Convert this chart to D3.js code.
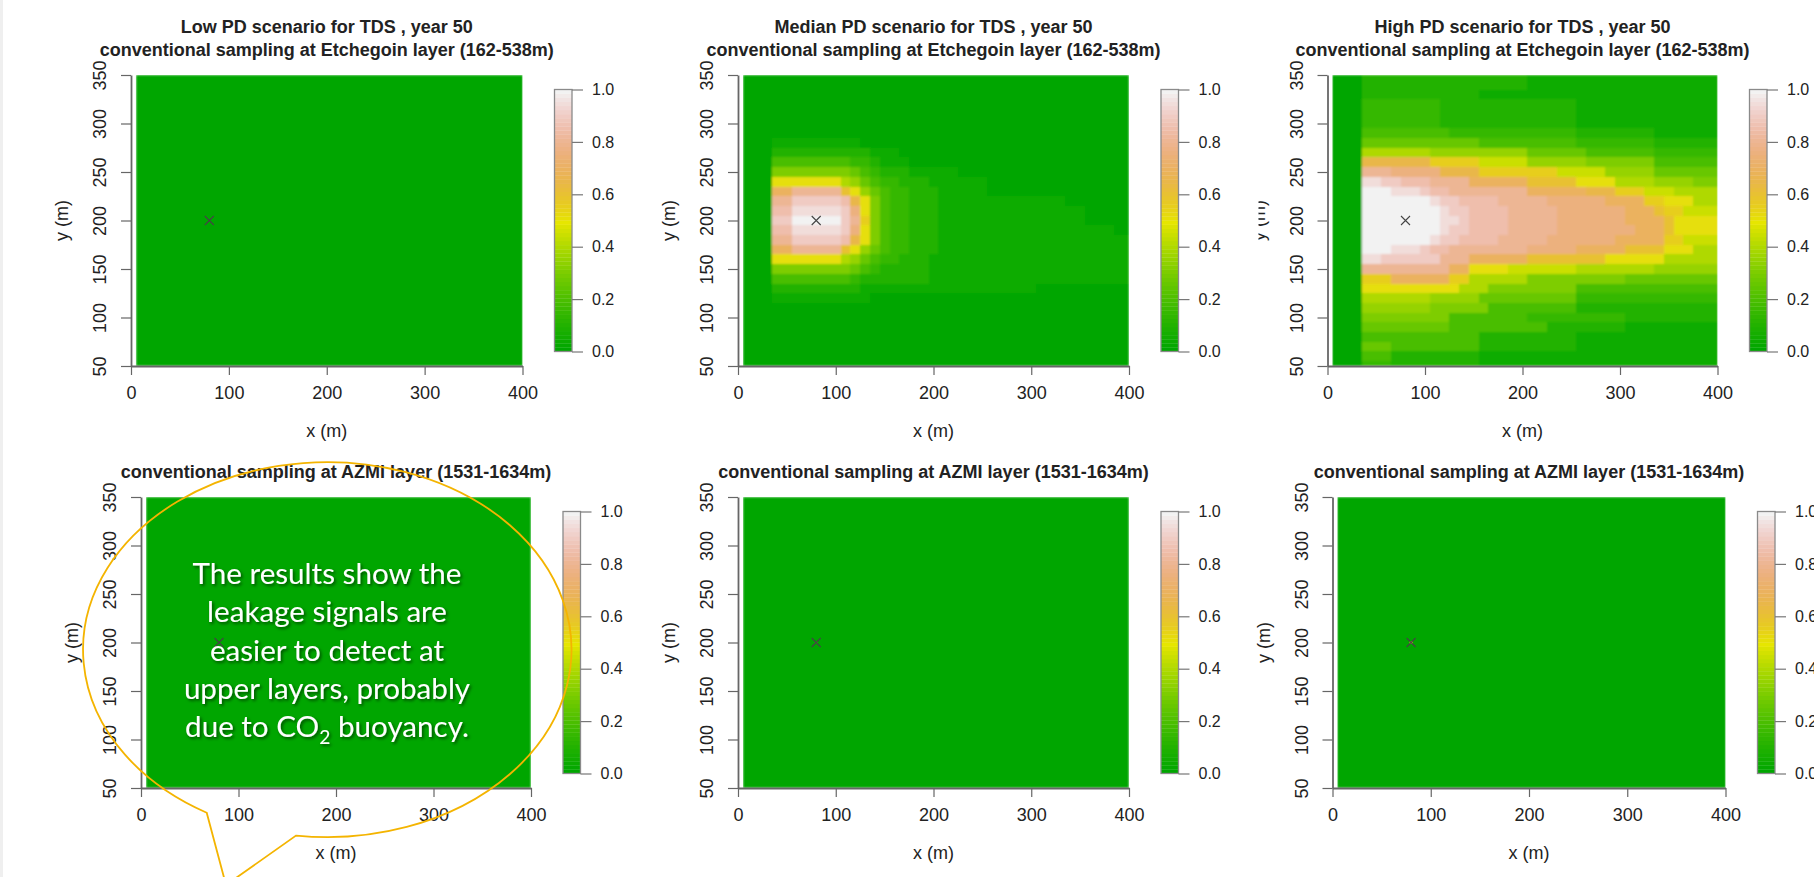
<!DOCTYPE html>
<html>
<head>
<meta charset="utf-8">
<script src="https://cdn.jsdelivr.net/npm/d3@7"></script>
<style>
  body { margin: 0; background: #fff; }
  svg { display: block; }
  text { font-family: "Liberation Sans", Arial, sans-serif; fill: #222; }
</style>
</head>
<body>
<svg id="fig" width="1814" height="877"></svg>
<script>

// ---- data ----
const xCenters = [10,20,30,40,50,60,70,80,90,100,110,120,130,140,150,160,170,180,190,200,
                  210,220,230,240,250,260,270,280,290,300,310,320,330,340,350,360,370,380,390,400];
const yCenters = [350,340,330,320,310,300,290,280,270,260,250,240,230,220,210,200,
                  190,180,170,160,150,140,130,120,110,100,90,80,70,60,50];
const xTicks = [0, 100, 200, 300, 400];
const yTicks = [50, 100, 150, 200, 250, 300, 350];
const barTicks = [0, 0.2, 0.4, 0.6, 0.8, 1.0];
const wellLocation = [80, 200];

// one char per 10 m cell, value = index / 20
const levelChars = "0123456789ABCDEFGHIJK";

const topTitles = [
	"Low PD scenario for TDS , year 50",
	"Median PD scenario for TDS , year 50",
	"High PD scenario for TDS , year 50"
];
const etchegoinTitle = "conventional sampling at Etchegoin layer (162-538m)";
const azmiTitle = "conventional sampling at AZMI layer (1531-1634m)";

// uniform fields (low Etchegoin and all AZMI panels read as 0 everywhere)
const uniformRow = "0000000000 0000000000 0000000000 0000000000";
const lowEtchegoin = yCenters.map(() => uniformRow);

const medianEtchegoin = [
	"0000000000 0000000000 0000000000 0000000000",
	"0000000000 0000000000 0000000000 0000000000",
	"0000000000 0000000000 0000000000 0000000000",
	"0000000000 0000000000 0000000000 0000000000",
	"0000000000 0000000000 0000000000 0000000000",
	"0000000000 0000000000 0000000000 0000000000",
	"0000000000 0000000000 0000000000 0000000000",
	"0001111111 1100000000 0000000000 0000000000",
	"0002222222 2221110000 0000000000 0000000000",
	"0004444444 4332111000 0000000000 0000000000",
	"0006666666 6543222111 1100000000 0000000000",
	"000AAAAAAA 8754332221 1111100000 0000000000",
	"000EEGGGGG CA75433222 1111100000 0000000000",
	"000GGIIIII HDA6433222 1111111111 1110000000",
	"000HHJJJJJ IFA6433222 1111111111 1111100000",
	"000IIKKKKK IGB6433222 1111111111 1111100000",
	"000HHJJJJJ IFA6433222 1111111111 1111111100",
	"000GGIIIII HDA6433222 1111111111 1111111111",
	"000EEGGGGG CA75433222 1111111111 1111111111",
	"000AAAAAAA 8754332221 1111111111 1111111111",
	"0006666666 6543222221 1111111111 1111111111",
	"0004444444 4322222221 1111111111 1111111111",
	"0002222222 2211111111 1111111111 0000000000",
	"0001111111 1110000000 0000000000 0000000000",
	"0000000000 0000000000 0000000000 0000000000",
	"0000000000 0000000000 0000000000 0000000000",
	"0000000000 0000000000 0000000000 0000000000",
	"0000000000 0000000000 0000000000 0000000000",
	"0000000000 0000000000 0000000000 0000000000",
	"0000000000 0000000000 0000000000 0000000000",
	"0000000000 0000000000 0000000000 0000000000"
];

const highEtchegoin = [
	"0002222222 2222222222 1111111111 1111111111",
	"0002222222 2222222222 1111111111 1111111111",
	"0002222222 2222211111 1111111111 1111111111",
	"0003333333 3222222222 2222211111 1111111111",
	"0003333333 3222222222 2222211111 1111111111",
	"0003333333 3222222222 2222211111 1111111111",
	"0004444444 4433333333 3333322222 2221111111",
	"0005555555 5555544444 4444433333 3332222222",
	"0008888888 7777777777 5555554444 4443333333",
	"000DDDDDDD BBBBB99999 7777776666 6664444444",
	"000GGGFFFF FDDDDBBBBB BBB9999977 7775555555",
	"000JJIIHHH GGGGEEEEEE CCCCCAAAA8 8887777666",
	"000KKKJJJI HHGGGGGGGG EEEEEEDDDB BB99988888",
	"000KKKKKKK JIIHHHHGGG GGFFFFFFEE EEBBAAA888",
	"000KKKKKKK KJIIHHHHGG GGGFFFFFFF EEECBB9999",
	"000KKKKKKK KJJIHHHHGG GGGFFFFFFF EEEECAAAAA",
	"000KKKKKKK KJIIHHHHGG GGGFFFFFFF FEEECAAAAA",
	"000KKKKKKK JIIHHHHGGG GGFFFFFFFE EEEEBB9999",
	"000KKKJJJI HHGGGGGGGG FFFFFEEEEE CCCCAAA888",
	"000JJIIIII IGGGEEEEEE CCCCCCCCAA AAAA888888",
	"000GGGGGGG GGEEAAAA99 9999988888 8887777777",
	"000BBBEEEE EEBB888888 6666666666 5555555555",
	"000AAAAAAA AAA8886666 6666644444 4444444444",
	"0008888888 7777755555 5555533333 3333333333",
	"0007777777 6666664444 4444422222 2222222222",
	"0006666666 6644444444 3333333333 2222222222",
	"0005555555 5544444444 4422222222 1111111111",
	"0004444444 4444422222 2222211111 1111111111",
	"0005554444 4444422222 2222211111 1111111111",
	"0004442222 2222211111 1111111111 1111111111",
	"0003332222 2222211111 1111111111 1111111111"
];

const lowAzmi = yCenters.map(() => uniformRow);
const medianAzmi = yCenters.map(() => uniformRow);
const highAzmi = yCenters.map(() => uniformRow);

// tiny hot spot right at the well (only visible in the AZMI panels)
const wellSpot = [0, 0, 0, 0, 0.12, 0.55];

const calloutLines = ["The results show the", "leakage signals are", "easier to detect at",
	"upper layers, probably", "due to CO"];

// ---- layout ----
const layout = [
	{ x0: 131,    x1: 522.5,  top: 75,  bottom: 366 },
	{ x0: 738,    x1: 1129,   top: 75,  bottom: 366 },
	{ x0: 1327.5, x1: 1717.5, top: 75,  bottom: 366 },
	{ x0: 141,    x1: 531,    top: 497, bottom: 788 },
	{ x0: 738,    x1: 1129,   top: 497, bottom: 788 },
	{ x0: 1332.5, x1: 1725.5, top: 497, bottom: 788 }
];

// R's terrain.colors(n)
function hsvToHex(h, s, v) {
	const i = Math.floor(h * 6), f = h * 6 - i;
	const p = v * (1 - s), q = v * (1 - f * s), t = v * (1 - (1 - f) * s);
	const rgb = [[v, t, p], [q, v, p], [p, v, t], [p, q, v], [t, p, v], [v, p, q]][i % 6];
	return d3.rgb(rgb[0] * 255, rgb[1] * 255, rgb[2] * 255).formatHex();
}
function terrainColors(n) {
	const k = Math.floor(n / 2);
	const seq = (a, b, len) => d3.range(len).map(i => a + (b - a) * i / (len - 1));
	const h1 = seq(4/12, 2/12, k), v1 = seq(0.65, 0.9, k);
	const h2 = seq(2/12, 0, n - k + 1).slice(1), s2 = seq(1, 0, n - k + 1).slice(1),
		v2 = seq(0.9, 0.95, n - k + 1).slice(1);
	return h1.map((h, i) => hsvToHex(h, 1, v1[i]))
		.concat(h2.map((h, i) => hsvToHex(h, s2[i], v2[i])));
}

const palette = terrainColors(64);
const color = d3.scaleQuantize().domain([0, 1]).range(palette);

const svg = d3.select("#fig");
const defs = svg.append("defs");
svg.append("rect").attr("width", 3).attr("height", 877).attr("fill", "#efefef");

// the plotted rasters look slightly resampled in the picture
defs.append("filter")
	.attr("id", "soften")
	.append("feGaussianBlur")
		.attr("stdDeviation", 1.1)
		.attr("edgeMode", "duplicate");

function drawPanel(box, grid, spot, titleLines, titleBaselines, idx) {
	const x = d3.scaleLinear().domain([0, 400]).range([box.x0, box.x1]);
	const y = d3.scaleLinear().domain([50, 350]).range([box.bottom, box.top]);
	const g = svg.append("g");

	const cells = [];
	grid.forEach((row, r) => {
		row.replace(/ /g, "").split("").forEach((ch, c) => {
			cells.push({ x: xCenters[c], y: yCenters[r], v: levelChars.indexOf(ch) / 20 });
		});
	});

	defs.append("clipPath")
		.attr("id", "clip" + idx)
		.append("rect")
			.attr("x", x(5)).attr("y", y(350))
			.attr("width", x(400) - x(5)).attr("height", y(50) - y(350));

	g.append("g")
		.attr("clip-path", `url(#clip${idx})`)
		.append("g")
			.attr("filter", "url(#soften)")
			.selectAll("rect")
			.data(cells)
			.join("rect")
				.attr("x", d => x(Math.max(d.x - 5, 0)))
				.attr("width", d => x(Math.min(d.x + 5, 400)) - x(Math.max(d.x - 5, 0)))
				.attr("y", d => y(Math.min(d.y + 5, 350)))
				.attr("height", d => y(Math.max(d.y - 5, 50)) - y(Math.min(d.y + 5, 350)))
				.attr("fill", d => color(d.v))
				.attr("shape-rendering", "crispEdges");

	// well marker
	const wx = x(wellLocation[0]), wy = y(wellLocation[1]);
	if (spot > 0) {
		g.append("rect")
			.attr("x", wx - 1.5).attr("y", wy - 1.5)
			.attr("width", 3).attr("height", 3)
			.attr("fill", color(spot));
	}
	g.append("path")
		.attr("d", `M${wx-4.5},${wy-4.5}L${wx+4.5},${wy+4.5}M${wx-4.5},${wy+4.5}L${wx+4.5},${wy-4.5}`)
		.attr("stroke", "#444")
		.attr("stroke-width", 1.1);

	// axes
	const xAxis = g.append("g")
		.attr("transform", `translate(0,${box.bottom})`)
		.call(d3.axisBottom(x).tickValues(xTicks).tickSize(9).tickSizeOuter(0).tickPadding(11.5));
	const yAxis = g.append("g")
		.attr("transform", `translate(${box.x0},0)`)
		.call(d3.axisLeft(y).tickValues(yTicks).tickSize(10).tickSizeOuter(0));

	[xAxis, yAxis].forEach(a => {
		a.attr("font-family", null).attr("font-size", null);
		a.select(".domain").attr("stroke", "#666").attr("stroke-width", 1.8);
		a.selectAll(".tick line").attr("stroke", "#666").attr("stroke-width", 1.2);
		a.selectAll(".tick text").style("font-size", "18px").attr("fill", "#222");
	});
	yAxis.selectAll(".tick text")
		.attr("x", 0).attr("dy", 0)
		.attr("text-anchor", "middle")
		.attr("transform", "translate(-24.6,0) rotate(-90)");

	g.append("text")
		.attr("x", (box.x0 + box.x1) / 2)
		.attr("y", box.bottom + 70.5)
		.attr("text-anchor", "middle")
		.style("font-size", "18px")
		.text("x (m)");
	g.append("text")
		.attr("transform", `translate(${box.x0 - 63},${(box.top + box.bottom) / 2}) rotate(-90)`)
		.attr("text-anchor", "middle")
		.style("font-size", "18px")
		.text("y (m)");

	// titles
	titleLines.forEach((t, i) => {
		g.append("text")
			.attr("x", (box.x0 + box.x1) / 2)
			.attr("y", titleBaselines[i])
			.attr("text-anchor", "middle")
			.style("font-size", "18px")
			.style("font-weight", "bold")
			.text(t);
	});

	// colour bar
	const bx = box.x1 + 32, bw = 17.5;
	const by = d3.scaleLinear().domain([0, 1]).range([box.bottom - 14.5, box.top + 14.5]);
	const bar = g.append("g");
	bar.selectAll("rect")
		.data(palette)
		.join("rect")
			.attr("x", bx)
			.attr("width", bw)
			.attr("y", (c, i) => by((i + 1) / palette.length))
			.attr("height", (c, i) => by(i / palette.length) - by((i + 1) / palette.length) + 0.3)
			.attr("fill", c => c);
	bar.append("rect")
		.attr("x", bx).attr("y", by(1))
		.attr("width", bw).attr("height", by(0) - by(1))
		.attr("fill", "none")
		.attr("stroke", "#8a8a8a")
		.attr("stroke-width", 1.3);
	const barAxis = bar.append("g")
		.attr("transform", `translate(${bx + bw},0)`)
		.call(d3.axisRight(by).tickValues(barTicks).tickFormat(d3.format(".1f"))
			.tickSize(11).tickPadding(9));
	barAxis.attr("font-family", null).attr("font-size", null);
	barAxis.select(".domain").remove();
	barAxis.selectAll(".tick line").attr("stroke", "#777").attr("stroke-width", 1.2);
	barAxis.selectAll(".tick text").style("font-size", "16px").attr("fill", "#222");
}

const grids = [lowEtchegoin, medianEtchegoin, highEtchegoin, lowAzmi, medianAzmi, highAzmi];
grids.forEach((grid, i) => {
	const titles = i < 3 ? [topTitles[i], etchegoinTitle] : [azmiTitle];
	const baselines = i < 3 ? [32.7, 55.6] : [477.5];
	drawPanel(layout[i], grid, wellSpot[i], titles, baselines, i);
});

// the median panel's picture overlaps the high panel's y label on the slide
svg.append("rect")
	.attr("x", 1226).attr("y", 60)
	.attr("width", 32.5).attr("height", 360)
	.attr("fill", "#fff");

// ---- callout bubble ----
defs.append("filter")
	.attr("id", "shadow")
	.attr("x", "-20%").attr("y", "-40%").attr("width", "140%").attr("height", "180%")
	.append("feDropShadow")
		.attr("dx", 1.6).attr("dy", 1.8)
		.attr("stdDeviation", 1.4)
		.attr("flood-color", "#000")
		.attr("flood-opacity", 0.55);

const bubble = { cx: 325.8, cy: 649.2, rx: 244.2, ry: 187.5 };
const tailA = [206.7, 812.7], tailB = [296, 835.6], tailTip = [226, 885];
svg.append("path")
	.attr("d", `M${tailA[0]},${tailA[1]} A${bubble.rx},${bubble.ry} 0 1 1 ${tailB[0]},${tailB[1]}` +
		` L${tailTip[0]},${tailTip[1]} Z`)
	.attr("fill", "none")
	.attr("stroke", "#f4b400")
	.attr("stroke-width", 1.8);

const calloutG = svg.append("g").attr("filter", "url(#shadow)");
const lineY = [584, 622.3, 660.7, 699, 737.3];

// fit the font so the first line matches the picture's width
const probe = calloutG.append("text")
	.style("font-family", "Lato, 'Open Sans', sans-serif")
	.style("font-size", "30px")
	.text(calloutLines[0]);
const fontSize = 30 * 269 / probe.node().getComputedTextLength();
probe.remove();

calloutLines.forEach((t, i) => {
	const txt = calloutG.append("text")
		.attr("x", 327)
		.attr("y", lineY[i])
		.attr("text-anchor", "middle")
		.style("font-family", "Lato, 'Open Sans', sans-serif")
		.style("font-size", fontSize + "px")
		.style("fill", "#fff")
		.text(t);
	if (i === calloutLines.length - 1) {
		txt.append("tspan")
			.attr("dy", fontSize * 0.22)
			.style("font-size", (fontSize * 0.65) + "px")
			.text("2");
		txt.append("tspan")
			.attr("dy", -fontSize * 0.22)
			.text(" buoyancy.");
	}
});

</script>
</body>
</html>
